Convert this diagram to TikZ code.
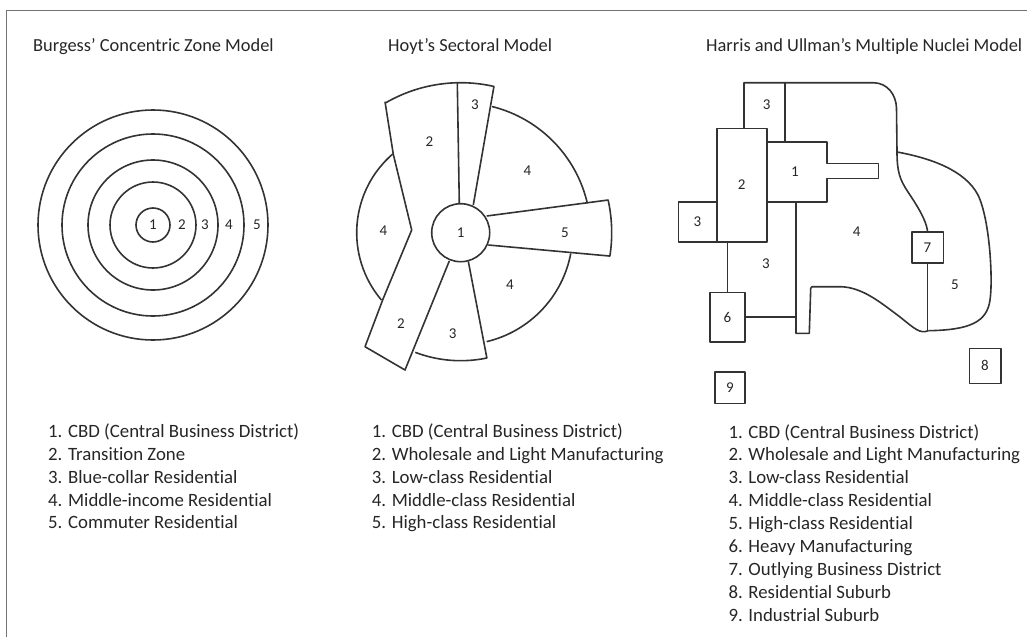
\documentclass[tikz,border=0pt]{standalone}
\usepackage{fontspec}
\setmainfont{Carlito}[Ligatures=NoCommon]
\usetikzlibrary{positioning}
\usetikzlibrary{calc}
\newcommand{\zonefont}{\fontsize{15}{18}\selectfont}
\newcommand{\titlefont}{\fontsize{18.4}{21}\selectfont}
\newcommand{\legendfont}{\fontsize{18.8}{23}\selectfont}
\tikzset{
    x=1pt, y=1pt,
%
    % Dark outline used for every zone boundary
    zone line/.style={draw=black!80, line width=1.6pt, line join=round},
%
    % Small square districts drawn as boxes
    district box/.style={zone line, rectangle, inner sep=0, text=black!85,
        font=\zonefont},
%
    % Numbers written inside the zones
    zone label/.style={inner sep=0, text=black!85, font=\zonefont},
%
    % Titles over the three models
    model title/.style={inner sep=0, anchor=base west, text=black!85,
        font=\titlefont},
%
    % One line of a key
    key line/.style={inner sep=0, anchor=base west, text=black!85,
        font=\legendfont},
%
    % Grey frame along the top and left edges
    frame line/.style={draw=black!55, line width=1.5pt}}

\begin{document}
\begin{tikzpicture}

\useasboundingbox (0,0) rectangle (1027,-637);
\draw[frame line] (6.7,-637) -- (6.7,-10.7) -- (1027,-10.7);

% Titles
\node[model title] (burgess title) at (33,-51) {Burgess' Concentric Zone Model};
\node[model title] (hoyt title) at (388,-51) {Hoyt's Sectoral Model};
\node[model title] (harris title) at (706,-51) {Harris and Ullman's Multiple Nuclei Model};

% Burgess: rings round the CBD
\node[zone line, circle, minimum size=34pt, inner sep=0, text=black!85,
    font=\zonefont] (burgess cbd) at (153,-225) {1};
\foreach \r in {43,65,91,115}
    \draw[zone line] (burgess cbd.center) circle[radius=\r];
\node[zone label] (burgess 2) at (182,-225) {2};
\node[zone label] (burgess 3) at (205,-225) {3};
\node[zone label] (burgess 4) at (229,-225) {4};
\node[zone label] (burgess 5) at (257,-225) {5};

% Hoyt: wedges fanning out from the CBD
\node[zone line, circle, minimum size=58pt, inner sep=0, text=black!85,
    font=\zonefont] (hoyt cbd) at (460.7,-232.7) {1};

% top of sectors 2 and 3
\draw[zone line] ($(hoyt cbd.center)+(120:150)$)
    arc[start angle=120, end angle=77.2, radius=150] -- (473.3,-205);
\draw[zone line] (457.3,-82.7) -- (459.3,-204);

% sector 2 bending down to the lower left
\draw[zone line] (385,-101.7) -- (393.3,-154.3) -- (411.7,-230)
    -- (383.3,-298.3) -- (365,-346.7) -- (405,-370) -- (449.3,-261);

% left sector 4
\draw[zone line] ($(hoyt cbd.center)+(130.7:104)$)
    arc[start angle=130.7, end angle=220.3, radius=104];

% upper sector 4
\draw[zone line] ($(hoyt cbd.center)+(76:130)$)
    arc[start angle=76, end angle=13, radius=130];

% sector 5 running out to the right
\draw[zone line] (486.7,-216) -- ($(hoyt cbd.center)+(12.5:151)$)
    arc[start angle=12.5, end angle=-8.9, radius=151] -- (488.3,-245);

% lower sector 4
\draw[zone line] ($(hoyt cbd.center)+(-10.7:112)$)
    arc[start angle=-10.7, end angle=-76.6, radius=112];

% lower sector 3
\draw[zone line] (468.3,-261.3) -- ($(hoyt cbd.center)+(-78.2:128)$)
    arc[start angle=-78.2, end angle=-110.8, radius=128];

\node[zone label] (hoyt top 3) at (475,-105) {3};
\node[zone label] (hoyt top 2) at (429.3,-141.7) {2};
\node[zone label] (hoyt top 4) at (527.3,-171) {4};
\node[zone label] (hoyt left 4) at (383.3,-230.7) {4};
\node[zone label] (hoyt 5) at (565,-232.7) {5};
\node[zone label] (hoyt low 4) at (510,-285) {4};
\node[zone label] (hoyt low 2) at (401,-323.3) {2};
\node[zone label] (hoyt low 3) at (452.7,-333.3) {3};

% Harris and Ullman: districts as boxes
\node[district box, minimum width=50pt, minimum height=113.4pt]
    (harris 2) at (741.7,-185) {2};
\node[district box, minimum width=38.4pt, minimum height=40pt]
    (harris left 3) at (697.5,-221.7) {3};
\node[district box, minimum width=35pt, minimum height=49.4pt]
    (harris 6) at (727.5,-317) {6};
\node[district box, minimum width=31.6pt, minimum height=31pt]
    (harris 7) at (927.5,-247.2) {7};
\node[district box, minimum width=31.4pt, minimum height=35pt]
    (harris 8) at (985,-365.8) {8};
\node[district box, minimum width=30pt, minimum height=31.6pt]
    (harris 9) at (730,-387.5) {9};

% the CBD with its spur to the east
\draw[zone line] (766.7,-141.7) -- (826.7,-141.7) -- (826.7,-163.3)
    -- (878.3,-163.3) -- (878.3,-178.3) -- (826.7,-178.3)
    -- (826.7,-201.7) -- (766.7,-201.7);

% outer edge over the top
\draw[zone line] (744,-128.3) -- (744,-82.7) -- (873.3,-82.7)
    .. controls (888,-83) and (896,-95) .. (896.5,-108) -- (897,-152);
\draw[zone line] (785,-82.7) -- (785,-141.7);

% links to the heavy manufacturing box
\draw[zone line] (harris 6.north) -- (harris 6.north |- harris 2.south);
\draw[zone line] (harris 6.east) -- ++(51,0);

% edge of zone 4 down the middle and along the bottom
\draw[zone line] (796,-201.7) -- (796,-333.3) -- (809.3,-333.3)
    -- (810.7,-288.3) -- (812,-286.7) -- (840,-286.7)
    .. controls (862,-287) and (880,-302) .. (900,-317)
    .. controls (915,-329) and (920,-334) .. (928.3,-330.7);

% high-class wedge round the outlying district
\draw[zone line] (897,-152) .. controls (897,-172) and (900,-180) .. (908,-192)
    .. controls (918,-207) and (926,-220) .. (harris 7.north);
\draw[zone line] (897,-152) .. controls (930,-158) and (965,-170) .. (978,-195)
    .. controls (990,-220) and (993,-280) .. (990,-300)
    .. controls (987,-322) and (970,-330) .. (928.3,-330.7);
\draw[zone line] (harris 7.south) -- (harris 7.south |- 0,-330.7);

\node[zone label] (harris top 3) at (766.7,-105) {3};
\node[zone label] (harris 1) at (795,-171.7) {1};
\node[zone label] (harris 4) at (856.7,-231.7) {4};
\node[zone label] (harris mid 3) at (766,-263.3) {3};
\node[zone label] (harris 5) at (955,-285) {5};

% Keys under the models
\foreach \txt [count=\i] in {{1. CBD (Central Business District)},
    {2. Transition Zone}, {3. Blue-collar Residential},
    {4. Middle-income Residential}, {5. Commuter Residential}}
    \node[key line] (burgess key \i) at (48,{-437.5-22.85*(\i-1)}) {\txt};

\foreach \txt [count=\i] in {{1. CBD (Central Business District)},
    {2. Wholesale and Light Manufacturing}, {3. Low-class Residential},
    {4. Middle-class Residential}, {5. High-class Residential}}
    \node[key line] (hoyt key \i) at (371.7,{-437.5-22.85*(\i-1)}) {\txt};

\foreach \txt [count=\i] in {{1. CBD (Central Business District)},
    {2. Wholesale and Light Manufacturing}, {3. Low-class Residential},
    {4. Middle-class Residential}, {5. High-class Residential},
    {6. Heavy Manufacturing}, {7. Outlying Business District},
    {8. Residential Suburb}, {9. Industrial Suburb}}
    \node[key line] (harris key \i) at (728.3,{-438-22.9*(\i-1)}) {\txt};

\end{tikzpicture}
\end{document}
